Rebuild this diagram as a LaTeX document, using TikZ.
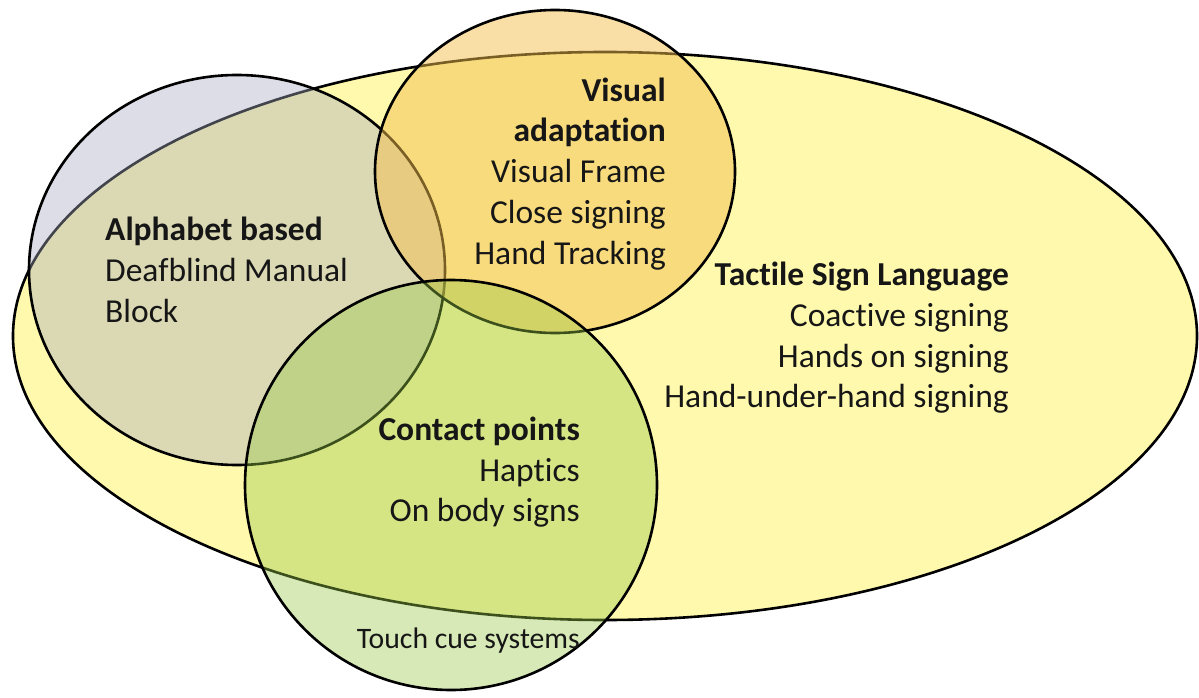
\documentclass[tikz,border=0pt]{standalone}
\usepackage{fontspec}
\setmainfont{Carlito}[Ligatures=NoCommon]
\definecolor{ellfill}{RGB}{255,249,173}
\definecolor{grayfill}{RGB}{167,170,192}
\definecolor{orangefill}{RGB}{243,191,77}
\definecolor{greenfill}{RGB}{152,200,72}
\definecolor{txtcol}{RGB}{22,22,22}
\begin{document}
\begin{tikzpicture}[x=1bp,y=-1bp,
  outline/.style={draw=black, line width=2.6bp},
  txt/.style={inner sep=0pt, text=txtcol, font=\fontsize{33.5bp}{40bp}\selectfont},
  hd/.style={inner sep=0pt, text=txtcol, font=\fontsize{33.5bp}{40bp}\selectfont\bfseries},
  small/.style={inner sep=0pt, text=txtcol, font=\fontsize{29.7bp}{36bp}\selectfont}]
\useasboundingbox (0,0) rectangle (1199,698);
% big ellipse
\draw[outline, fill=ellfill] (605,336) ellipse [x radius=592bp, y radius=284bp];
% alphabet circle
\draw[outline, fill=grayfill, fill opacity=0.4] (237,270) ellipse [x radius=208bp, y radius=195bp];
% visual circle
\draw[outline, fill=orangefill, fill opacity=0.5] (555,171.5) ellipse [x radius=180bp, y radius=161.5bp];
% contact circle
\draw[outline, fill=greenfill, fill opacity=0.4] (451,485) ellipse [x radius=206bp, y radius=205bp];
% texts
\node[hd, anchor=base west] (a1) at (105,240) {Alphabet based};
\node[txt, anchor=base west] (a2) at (105,281) {Deafblind Manual};
\node[txt, anchor=base west] (a3) at (105,322) {Block};
\node[hd, anchor=base east] (v1) at (666,102) {Visual};
\node[hd, anchor=base east] (v2) at (666,142) {adaptation};
\node[txt, anchor=base east] (v3) at (666,183) {Visual Frame};
\node[txt, anchor=base east] (v4) at (666,224) {Close signing};
\node[txt, anchor=base east] (v5) at (666,264) {Hand Tracking};
\node[hd, anchor=base east] (t1) at (1009,285) {Tactile Sign Language};
\node[txt, anchor=base east] (t2) at (1009,326) {Coactive signing};
\node[txt, anchor=base east] (t3) at (1009,367) {Hands on signing};
\node[txt, anchor=base east] (t4) at (1009,407) {Hand-under-hand signing};
\node[hd, anchor=base east] (c1) at (580,440) {Contact points};
\node[txt, anchor=base east] (c2) at (580,481) {Haptics};
\node[txt, anchor=base east] (c3) at (580,521) {On body signs};
\node[small, anchor=base east] (tc) at (580,648) {Touch cue systems};
\end{tikzpicture}
\end{document}
